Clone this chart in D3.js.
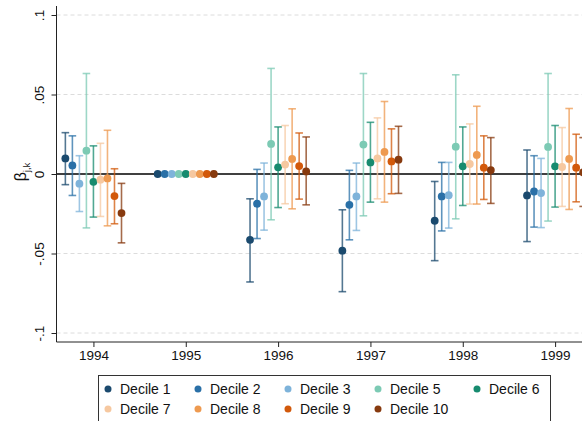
<!DOCTYPE html>
<html><head><meta charset="utf-8">
<script src="https://cdn.jsdelivr.net/npm/d3@7/dist/d3.min.js"></script>
<style>body{margin:0;background:#fff;} svg{display:block;font-family:Arial,"Liberation Sans",sans-serif;} svg text{font-family:Arial,"Liberation Sans",sans-serif;}</style>
</head><body>
<script>
const years = [1994, 1995, 1996, 1997, 1998, 1999];
const deciles = ["Decile 1","Decile 2","Decile 3","Decile 5","Decile 6","Decile 7","Decile 8","Decile 9","Decile 10"];
const colors = ["#1b4a6e","#2a70a7","#7eb3da","#7ccab4","#178b6f","#f6c8a0","#ee9a50","#d2590b","#873a0f"];
// point estimates per decile, by year
const est = [
  [0.0098, 0, -0.0414, -0.0482, -0.0294, -0.0135],
  [0.0054, 0, -0.0187, -0.0194, -0.0141, -0.0110],
  [-0.0061, 0, -0.0141, -0.0141, -0.0133, -0.0120],
  [0.0147, 0, 0.0189, 0.0185, 0.0172, 0.0170],
  [-0.0049, 0, 0.0042, 0.0073, 0.0048, 0.0048],
  [-0.0036, 0, 0.0059, 0.0098, 0.0063, 0.0044],
  [-0.0028, 0, 0.0095, 0.0139, 0.0120, 0.0095],
  [-0.0139, 0, 0.0050, 0.0079, 0.0040, 0.0040],
  [-0.0246, 0, 0.0016, 0.0090, 0.0025, 0.0010]
];
const upper = [
  [0.0260, 0, -0.0156, -0.0225, -0.0047, 0.0151],
  [0.0240, 0, 0.0029, 0.0023, 0.0073, 0.0115],
  [0.0115, 0, 0.0069, 0.0069, 0.0073, 0.0098],
  [0.0632, 0, 0.0664, 0.0632, 0.0624, 0.0632],
  [0.0177, 0, 0.0296, 0.0325, 0.0296, 0.0305],
  [0.0193, 0, 0.0305, 0.0353, 0.0315, 0.0292],
  [0.0275, 0, 0.0410, 0.0456, 0.0426, 0.0412],
  [0.0033, 0, 0.0258, 0.0284, 0.0240, 0.0250],
  [-0.0059, 0, 0.0233, 0.0300, 0.0229, 0.0229]
];
const lower = [
  [-0.0067, 0, -0.0679, -0.0740, -0.0545, -0.0425],
  [-0.0135, 0, -0.0406, -0.0414, -0.0358, -0.0334],
  [-0.0236, 0, -0.0353, -0.0355, -0.0340, -0.0337],
  [-0.0339, 0, -0.0288, -0.0263, -0.0282, -0.0296],
  [-0.0271, 0, -0.0211, -0.0177, -0.0198, -0.0208],
  [-0.0267, 0, -0.0187, -0.0156, -0.0189, -0.0204],
  [-0.0326, 0, -0.0219, -0.0177, -0.0189, -0.0223],
  [-0.0313, 0, -0.0158, -0.0124, -0.0160, -0.0175],
  [-0.0433, 0, -0.0194, -0.0122, -0.0185, -0.0204]
];
const yTicks = [-0.1, -0.05, 0, 0.05, 0.1];
const yTickLabels = ["-.1", "-.05", "0", ".05", ".1"];

const W = 582, H = 421;
const svg = d3.select("body").append("svg").attr("width", W).attr("height", H);
const FONT = "Arial, 'Liberation Sans', sans-serif";

const pLeft = 56.5, pRight = 582, pTop = 6, pBottom = 342;
const x = d3.scaleLinear().domain([1993.6, 1999.3]).range([pLeft, pRight + 0.8]);
const y = d3.scaleLinear().domain([-0.1, 0.1]).range([333, 15]);
const step = 0.076; // offset between deciles in year units

// gridlines
svg.append("g").selectAll("line").data(yTicks.filter(d => d !== 0)).join("line")
  .attr("x1", pLeft).attr("x2", pRight).attr("y1", d => y(d)).attr("y2", d => y(d))
  .attr("stroke", "#dcdcdc").attr("stroke-width", 1).attr("stroke-dasharray", "4,3");

// zero line
svg.append("line").attr("x1", pLeft).attr("x2", pRight).attr("y1", y(0)).attr("y2", y(0))
  .attr("stroke", "#000").attr("stroke-width", 1.4);

// Y axis
const yAxis = d3.axisLeft(y).tickValues(yTicks).tickFormat((d, i) => yTickLabels[i]).tickSize(5).tickSizeOuter(0);
const gy = svg.append("g").attr("transform", `translate(${pLeft},0)`).call(yAxis).attr("font-family", FONT);
gy.select(".domain").attr("d", `M0,${pTop}V${pBottom}`).attr("stroke", "#222");
gy.selectAll(".tick line").attr("stroke", "#222");
gy.selectAll(".tick text").attr("font-size", 13.5).attr("fill", "#111")
  .attr("transform", "rotate(-90)").attr("x", 0).attr("dy", 0)
  .attr("text-anchor", "middle").attr("y", -13);

// X axis
const xAxis = d3.axisBottom(x).tickValues(years).tickFormat(d3.format("d")).tickSize(5).tickSizeOuter(0);
const gx = svg.append("g").attr("transform", `translate(0,${pBottom})`).call(xAxis).attr("font-family", FONT);
gx.select(".domain").attr("d", `M${pLeft},0H${pRight}`).attr("stroke", "#222");
gx.selectAll(".tick line").attr("stroke", "#222");
gx.selectAll(".tick text").attr("font-size", 13.5).attr("fill", "#111").attr("y", 8);

// Y label
const yl = svg.append("text").attr("transform", "translate(26,172) rotate(-90)")
  .attr("text-anchor", "middle").attr("font-size", 16).attr("fill", "#111").attr("font-family", FONT);
yl.append("tspan").text("β");
yl.append("tspan").attr("font-size", 9.5).attr("dy", 4).text("j,k");

// data marks
const plot = svg.append("g");
deciles.forEach((name, i) => {
  const g = plot.append("g");
  const off = (i - 4) * step;
  const pts = years.map((yr, j) => ({x: x(yr + off), e: est[i][j], u: upper[i][j], l: lower[i][j]}));
  const ci = pts.filter(p => p.u !== p.l);
  g.selectAll("line.v").data(ci).join("line").attr("class", "v")
    .attr("x1", p => p.x).attr("x2", p => p.x).attr("y1", p => y(p.u)).attr("y2", p => y(p.l))
    .attr("stroke", colors[i]).attr("stroke-width", 1.6).attr("stroke-opacity", 0.75);
  ["u", "l"].forEach(k => {
    g.selectAll("line.c" + k).data(ci).join("line").attr("class", "c" + k)
      .attr("x1", p => p.x - 3.8).attr("x2", p => p.x + 3.8).attr("y1", p => y(p[k])).attr("y2", p => y(p[k]))
      .attr("stroke", colors[i]).attr("stroke-width", 1.6).attr("stroke-opacity", 0.75);
  });
  g.selectAll("circle").data(pts).join("circle")
    .attr("cx", p => p.x).attr("cy", p => y(p.e)).attr("r", 3.9).attr("fill", colors[i]);
});

// legend
const lg = svg.append("g").attr("font-family", FONT);
lg.append("rect").attr("x", 98.5).attr("y", 375.5).attr("width", 452).attr("height", 60)
  .attr("fill", "#fff").attr("stroke", "#333").attr("stroke-width", 1);
const colX = [108, 198, 288, 378, 477];
deciles.forEach((name, i) => {
  const r = Math.floor(i / 5), c = i % 5;
  const gx0 = colX[c], gy0 = 389 + r * 20;
  lg.append("circle").attr("cx", gx0).attr("cy", gy0).attr("r", 3.5).attr("fill", colors[i]);
  lg.append("text").attr("x", gx0 + 12).attr("y", gy0 + 5).attr("font-size", 14).attr("fill", "#111").text(name);
});
</script>
</body></html>
